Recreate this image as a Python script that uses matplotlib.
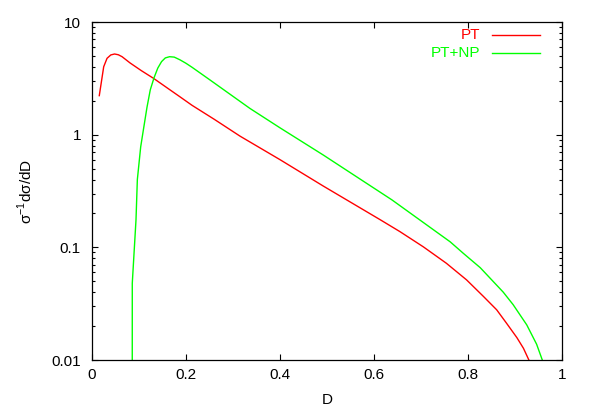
import matplotlib
matplotlib.use("Agg")
import matplotlib.pyplot as plt
from matplotlib.ticker import LogLocator, FixedLocator, FixedFormatter, NullFormatter

# ---- data ----
pt_D = [0.0155, 0.0249, 0.032, 0.04, 0.048, 0.056, 0.064, 0.081, 0.105, 0.131,
        0.16, 0.187, 0.213, 0.26, 0.315, 0.4, 0.492, 0.613, 0.655, 0.705,
        0.754, 0.797, 0.833, 0.861, 0.882, 0.904, 0.918, 0.932]
pt_y = [2.22, 4.01, 4.76, 5.1, 5.2, 5.12, 4.92, 4.33, 3.7, 3.16,
        2.6, 2.17, 1.82, 1.37, 0.97, 0.60, 0.35, 0.176, 0.138, 0.101,
        0.0722, 0.0514, 0.0366, 0.0279, 0.0212, 0.0158, 0.0127, 0.0095]

ptnp_D = [0.0855, 0.0857, 0.0936, 0.0965, 0.1036, 0.11, 0.117, 0.124, 0.132, 0.14,
          0.148, 0.156, 0.165, 0.175, 0.187, 0.2, 0.213, 0.251, 0.336, 0.4,
          0.492, 0.638, 0.762, 0.79, 0.826, 0.875, 0.896, 0.925, 0.946, 0.96]
ptnp_y = [0.0001, 0.048, 0.175, 0.40, 0.78, 1.15, 1.75, 2.5, 3.2, 3.9,
          4.45, 4.8, 4.92, 4.88, 4.62, 4.3, 3.96, 3.06, 1.71, 1.15,
          0.66, 0.264, 0.112, 0.0885, 0.066, 0.040, 0.031, 0.0205, 0.0138, 0.0095]

x_ticks = [0, 0.2, 0.4, 0.6, 0.8, 1]
x_ticklabels = ["0", "0.2", "0.4", "0.6", "0.8", "1"]
y_ticks = [0.01, 0.1, 1, 10]
y_ticklabels = ["0.01", "0.1", "1", "10"]

series_labels = ["PT", "PT+NP"]
series_colors = ["#ff0000", "#00ff00"]

plt.rcParams['font.family'] = ['Liberation Sans', 'DejaVu Sans']
plt.rcParams['mathtext.fontset'] = 'custom'
plt.rcParams['mathtext.rm'] = 'Liberation Sans'

fig = plt.figure(figsize=(5.93, 4.15), dpi=100)
ax = fig.add_axes([92/593, 55/415, 470/593, 338/415])

ax.plot(pt_D, pt_y, color=series_colors[0], lw=1.0)
ax.plot(ptnp_D, ptnp_y, color=series_colors[1], lw=1.0)

ax.set_yscale('log')
ax.set_xlim(0, 1)
ax.set_ylim(0.01, 10)

ax.xaxis.set_major_locator(FixedLocator(x_ticks))
ax.xaxis.set_major_formatter(FixedFormatter(x_ticklabels))
ax.yaxis.set_major_locator(FixedLocator(y_ticks))
ax.yaxis.set_major_formatter(FixedFormatter(y_ticklabels))
ax.yaxis.set_minor_locator(LogLocator(base=10, subs=range(2, 10)))
ax.yaxis.set_minor_formatter(NullFormatter())

ax.tick_params(axis='both', which='major', direction='in', length=4.5, width=0.8,
               top=True, right=True, labelsize=11, color='black')
ax.tick_params(axis='y', which='minor', direction='in', length=2.5, width=0.8,
               left=True, right=True)
ax.tick_params(axis='y', which='major', pad=8)
ax.tick_params(axis='x', which='major', pad=6)

for s in ax.spines.values():
    s.set_linewidth(0.9)
    s.set_color('black')

ax.set_xlabel('D', fontsize=11, labelpad=8)
ax.set_ylabel('σ$^{\\mathregular{-1}}$dσ/dD', fontsize=11, labelpad=12)

# legend (gnuplot style: right-aligned text then sample line)
leg_y = [0.9615, 0.9074]
for lab, col, yy in zip(series_labels, series_colors, leg_y):
    ax.text(0.8255, yy, lab, color=col, fontsize=11, ha='right', va='center',
            transform=ax.transAxes)
    ax.plot([0.850, 0.953], [yy, yy], color=col, lw=1.0, transform=ax.transAxes)

fig.savefig('out.png', dpi=100)
